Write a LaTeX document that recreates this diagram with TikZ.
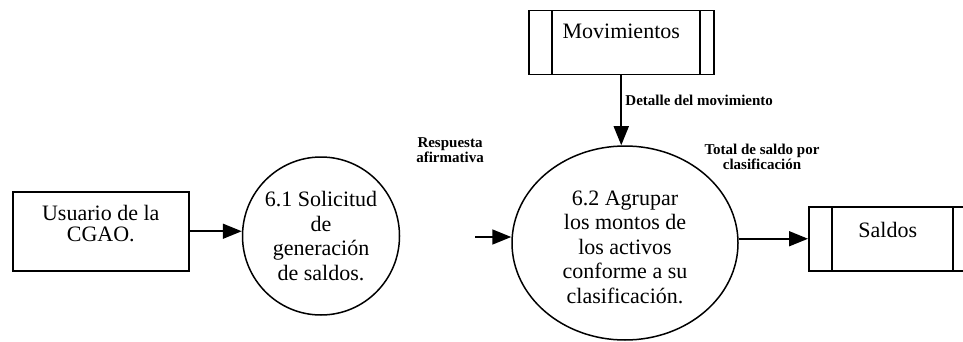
\documentclass[tikz,border=0pt]{standalone}
\usepackage{fontspec}
\setmainfont{Liberation Serif}
\usepackage{tikz}
\usetikzlibrary{shapes.geometric, arrows.meta, positioning, calc}

\begin{document}
\begin{tikzpicture}[x=1pt, y=-1pt,
        every node/.style={font=\fontsize{22}{24.5}\selectfont},
        entidad/.style={draw, line width=1.5pt, inner ysep=0pt, anchor=north west, align=center},
        almacen/.style={draw, line width=1.5pt, inner ysep=0pt, anchor=north west,
            path picture={
                \draw[line width=1.5pt] ([xshift=23pt]path picture bounding box.north west) -- ([xshift=23pt]path picture bounding box.south west);
                \draw[line width=1.5pt] ([xshift=-14pt]path picture bounding box.north east) -- ([xshift=-14pt]path picture bounding box.south east);}},
        proceso/.style={draw, ellipse, line width=1.5pt, inner sep=0pt, align=center},
        flujo/.style={line width=1.7pt, -{Triangle[length=19pt, width=15pt]}},
        etiqueta/.style={font=\fontsize{15}{15.5}\selectfont\bfseries, align=center}]
    \useasboundingbox (0,0) rectangle (963,342);

    % entidad externa y procesos
    \node[entidad, minimum width=176pt, text height=50pt, text depth=29pt,
          font=\fontsize{22}{21}\selectfont] (usuario) at (12,191) {Usuario de la\\CGAO.};
    \node[proceso, minimum width=157pt, minimum height=158pt, inner xsep=-3pt] (p61) at (321,236)
        {6.1 Solicitud\\de\\generación\\de saldos.};
    \node[proceso, minimum width=226pt, minimum height=194pt, text height=125pt, text depth=5pt] (p62) at (625,243)
        {6.2 Agrupar\\los montos de\\los activos\\conforme a su\\clasificación.};

    % almacenes de datos
    \node[almacen, minimum width=185pt, text height=28pt, text depth=36pt] (mov) at (528,10) {Movimientos};
    \node[almacen, minimum width=158pt, text height=31pt, text depth=33pt] (saldos) at (808,206) {Saldos};

    % flujos
    \coordinate (resp) at (475,237);
    \draw[flujo] (usuario.east) -- (usuario.east -| p61.west);
    \draw[flujo] (resp) -- (resp -| p62.west);
    \draw[flujo] (mov.south) -- (mov.south |- p62.north)
        node[etiqueta, anchor=west, pos=0.35] (detalle) {Detalle del movimiento};
    \draw[flujo] (saldos.west -| p62.east) -- (saldos.west);

    \node[etiqueta] (respuesta) at (450,150) {Respuesta\\afirmativa};
    \node[etiqueta] (total) at (762,157) {Total de saldo por\\clasificación};
\end{tikzpicture}
\end{document}
